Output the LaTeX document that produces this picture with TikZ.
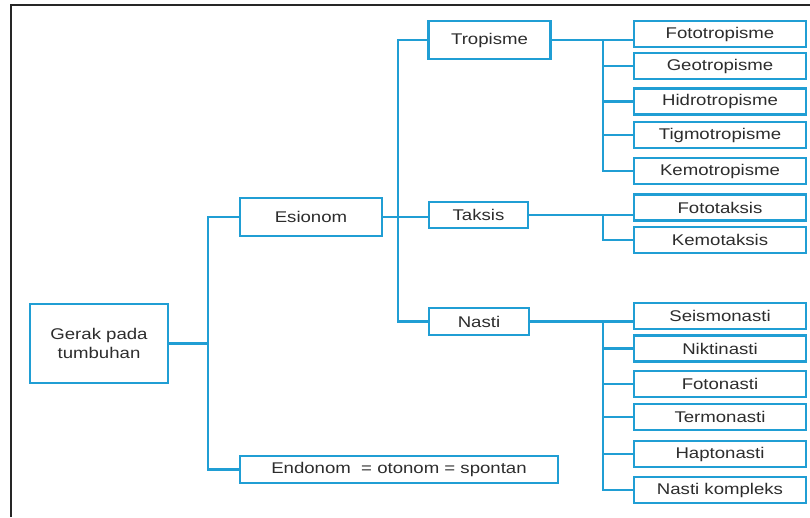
\documentclass[tikz,border=0pt]{standalone}
\usepackage{fontspec}
\newfontfamily\diagfont{Liberation Sans}[FakeStretch=1.2]
\definecolor{lb}{RGB}{32,158,212}
\definecolor{txt}{RGB}{45,45,45}
\begin{document}
\begin{tikzpicture}[x=1pt,y=-1pt,
  box/.style={draw=lb, line width=2.6pt, fill=white, inner sep=0pt, text=txt,
    font=\diagfont\fontsize{15.5}{19}\selectfont, align=center},
  leaf/.style={box, minimum width=172pt, minimum height=26pt},
  ln/.style={draw=lb, line width=2.4pt}]
\useasboundingbox (0,0) rectangle (810,517);
\fill[white] (0,0) rectangle (810,517);
\draw[black!85, line width=1.6pt] (11,517) -- (11,5) -- (810,5);

% main nodes
\node[box, minimum width=138pt, minimum height=79pt] (gerak) at (99,343.5) {Gerak pada\\tumbuhan};
\node[box, minimum width=142pt, minimum height=38pt] (esionom) at (311,217) {Esionom};
\node[box, minimum width=318pt, minimum height=27pt] (endonom) at (399,469.5) {Endonom\ \ = otonom = spontan};
\node[box, minimum width=122pt, minimum height=38pt] (tropisme) at (489.5,40) {Tropisme};
\node[box, minimum width=99pt, minimum height=26pt] (taksis) at (478.5,215) {Taksis};
\node[box, minimum width=100pt, minimum height=27pt] (nasti) at (479,321.5) {Nasti};

% leaves
\node[leaf] (fototropisme) at (720,34) {Fototropisme};
\node[leaf] (geotropisme) at (720,66) {Geotropisme};
\node[leaf] (hidrotropisme) at (720,101.5) {Hidrotropisme};
\node[leaf] (tigmotropisme) at (720,135) {Tigmotropisme};
\node[leaf] (kemotropisme) at (720,171) {Kemotropisme};
\node[leaf] (fototaksis) at (720,207.5) {Fototaksis};
\node[leaf] (kemotaksis) at (720,240) {Kemotaksis};
\node[leaf] (seismonasti) at (720,316) {Seismonasti};
\node[leaf] (niktinasti) at (720,348.5) {Niktinasti};
\node[leaf] (fotonasti) at (720,384) {Fotonasti};
\node[leaf] (termonasti) at (720,417) {Termonasti};
\node[leaf] (haptonasti) at (720,454) {Haptonasti};
\node[leaf] (nastikompleks) at (720,490) {Nasti kompleks};

% trunk coordinates
\coordinate (t1) at (208,0);
\coordinate (t2) at (398,0);
\coordinate (tb) at (603,0);

% level 1
\draw[ln] (gerak.east) -- (gerak.east -| t1);
\draw[ln] (esionom.west) -- (esionom.west -| t1) -- (endonom.west -| t1) -- (endonom.west);

% level 2
\draw[ln] (tropisme.west) -- (tropisme.west -| t2) -- (nasti.west -| t2) -- (nasti.west);
\draw[ln] (esionom.east) -- (esionom.east -| taksis.west);

% tropisme branch
\draw[ln] (tropisme.east) -- (tropisme.east -| fototropisme.west);
\draw[ln] (tropisme.east -| tb) |- (kemotropisme.west);
\foreach \n in {geotropisme,hidrotropisme,tigmotropisme}
  \draw[ln] (\n.west -| tb) -- (\n.west);

% taksis branch
\draw[ln] (taksis.east) -- (taksis.east -| fototaksis.west);
\draw[ln] (taksis.east -| tb) |- (kemotaksis.west);

% nasti branch
\draw[ln] (nasti.east) -- (nasti.east -| seismonasti.west);
\draw[ln] (nasti.east -| tb) |- (nastikompleks.west);
\foreach \n in {niktinasti,fotonasti,termonasti,haptonasti}
  \draw[ln] (\n.west -| tb) -- (\n.west);
\end{tikzpicture}
\end{document}
